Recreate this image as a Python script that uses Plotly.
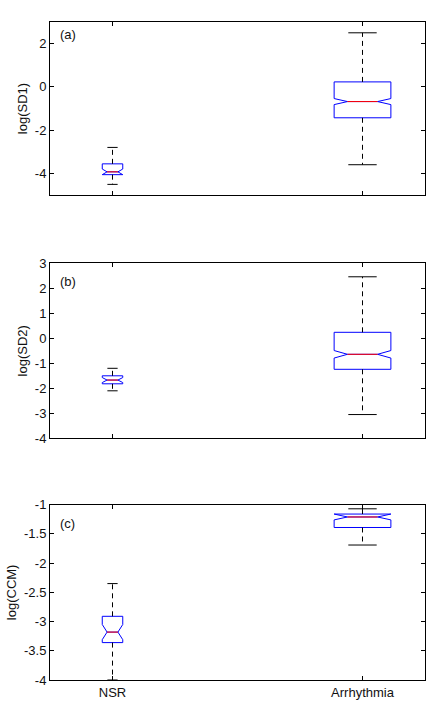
import plotly.graph_objects as go

# ---------------- data ----------------
groups = ["NSR", "Arrhythmia"]
positions = [1, 2]
panel_labels = ["(a)", "(b)", "(c)"]
y_titles = ["log(SD1)", "log(SD2)", "log(CCM)"]

# panel (a) log(SD1)
sd1_lower = [-4.51, -3.60]
sd1_q1 = [-4.06, -1.43]
sd1_median = [-3.93, -0.68]
sd1_q3 = [-3.56, 0.23]
sd1_upper = [-2.80, 2.50]
sd1_notch = [0.13, 0.14]

# panel (b) log(SD2)
sd2_lower = [-2.10, -3.05]
sd2_q1 = [-1.82, -1.24]
sd2_median = [-1.67, -0.64]
sd2_q3 = [-1.50, 0.24]
sd2_upper = [-1.20, 2.46]
sd2_notch = [0.10, 0.15]

# panel (c) log(CCM)
ccm_lower = [-4.00, -1.69]
ccm_q1 = [-3.36, -1.39]
ccm_median = [-3.18, -1.21]
ccm_q3 = [-2.91, -1.16]
ccm_upper = [-2.35, -1.07]
ccm_notch = [0.13, 0.05]

# tick values / labels
sd1_ticks = [-4, -2, 0, 2]
sd2_ticks = [-4, -3, -2, -1, 0, 1, 2, 3]
ccm_ticks = [-4, -3.5, -3, -2.5, -2, -1.5, -1]
sd1_range = [-5, 3]
sd2_range = [-4, 3]
ccm_range = [-4, -1]

# ---------------- style ----------------
box_widths = [0.082, 0.227]
notch_w = 0.235
FONT = "Liberation Sans, Arial, Helvetica, sans-serif"
FS = 13
domains = [[0.7371, 1.0], [0.3673, 0.6333], [0.0, 0.2664]]

panels = [
    (sd1_lower, sd1_q1, sd1_median, sd1_q3, sd1_upper, sd1_notch, sd1_ticks, sd1_range),
    (sd2_lower, sd2_q1, sd2_median, sd2_q3, sd2_upper, sd2_notch, sd2_ticks, sd2_range),
    (ccm_lower, ccm_q1, ccm_median, ccm_q3, ccm_upper, ccm_notch, ccm_ticks, ccm_range),
]

fig = go.Figure()


def fmt(v):
    return "%g" % v  # ascii hyphen-minus like the original


annotations = []
for i, (lo, q1, med, q3, up, ns, ticks, rng) in enumerate(panels):
    ax = "" if i == 0 else str(i + 1)
    xa, ya = "x" + ax, "y" + ax
    for j, pos in enumerate(positions):
        w = box_widths[j]
        # dashed whiskers
        fig.add_trace(go.Scatter(
            x=[pos, pos, None, pos, pos],
            y=[q3[j], up[j], None, q1[j], lo[j]],
            mode="lines", line=dict(color="black", width=1, dash="5px,4px"),
            hoverinfo="skip", showlegend=False, xaxis=xa, yaxis=ya))
        # caps
        fig.add_trace(go.Scatter(
            x=[pos - w / 4, pos + w / 4, None, pos - w / 4, pos + w / 4],
            y=[up[j], up[j], None, lo[j], lo[j]],
            mode="lines", line=dict(color="black", width=1),
            hoverinfo="skip", showlegend=False, xaxis=xa, yaxis=ya))
        # notched box
        fig.add_trace(go.Box(
            x=[pos], q1=[q1[j]], median=[med[j]], q3=[q3[j]],
            lowerfence=[q1[j]], upperfence=[q3[j]],
            notched=True, notchspan=[ns[j]], notchwidth=notch_w,
            width=w, whiskerwidth=0, boxpoints=False,
            line=dict(color="#0000ff", width=1), fillcolor="rgba(0,0,0,0)",
            name=groups[j], showlegend=False, xaxis=xa, yaxis=ya))
        # red median
        hm = w / 2 * (1 - 2 * notch_w)
        fig.add_trace(go.Scatter(
            x=[pos - hm, pos + hm], y=[med[j], med[j]],
            mode="lines", line=dict(color="#ff0000", width=1),
            hoverinfo="skip", showlegend=False, xaxis=xa, yaxis=ya))

    common = dict(showline=True, linecolor="black", linewidth=1, mirror="ticks",
                  ticks="inside", ticklen=4, tickcolor="black", showgrid=False,
                  zeroline=False, tickfont=dict(family=FONT, size=FS, color="#111"))
    fig.layout["xaxis" + ax] = dict(
        domain=[0, 1], range=[0.75, 2.25], tickvals=positions, ticktext=groups,
        showticklabels=(i == 2), anchor=ya, **common)
    fig.layout["yaxis" + ax] = dict(
        domain=domains[i], range=rng, tickvals=ticks, ticktext=[fmt(t) for t in ticks],
        anchor=xa, title=dict(text=y_titles[i], font=dict(family=FONT, size=FS, color="#111"),
                              standoff=4), **common)
    annotations.append(dict(
        text=panel_labels[i], xref=xa + " domain", yref=ya + " domain",
        x=0.02, y=[0.925, 0.897, 0.894][i], xanchor="left", yanchor="middle",
        showarrow=False, font=dict(family=FONT, size=FS, color="#111")))

fig.update_layout(
    width=430, height=707, margin=dict(l=50, r=5, t=22, b=27, autoexpand=False),
    plot_bgcolor="white", paper_bgcolor="white", boxmode="overlay",
    annotations=annotations, showlegend=False)

fig.write_html("out.html")
